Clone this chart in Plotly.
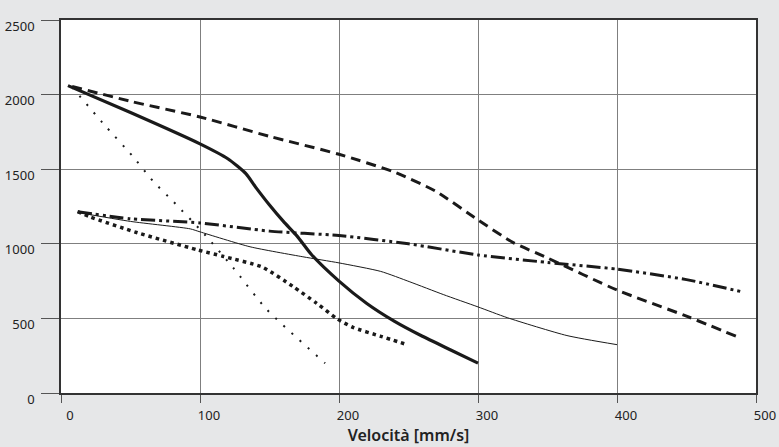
import plotly.graph_objects as go

# --- data ---
thick_x = [5, 50, 100, 120, 133, 140, 150, 160, 170, 180, 200, 220, 240, 260, 280, 300]
thick_y = [2060, 1880, 1670, 1570, 1470, 1380, 1260, 1150, 1050, 930, 750, 600, 480, 380, 290, 200]

dash_x = [8, 50, 100, 150, 200, 240, 270, 300, 325, 350, 400, 450, 487]
dash_y = [2055, 1955, 1850, 1720, 1600, 1480, 1350, 1160, 1010, 905, 690, 515, 375]

dashdot_x = [12, 50, 100, 150, 200, 250, 300, 350, 400, 450, 490]
dashdot_y = [1215, 1168, 1140, 1085, 1055, 1000, 925, 875, 830, 760, 678]

thin_x = [12, 50, 93, 100, 136, 174, 200, 230, 251, 275, 300, 321, 364, 400]
thin_y = [1210, 1150, 1100, 1080, 980, 913, 872, 815, 745, 660, 577, 505, 385, 324]

bigdot_x = [12, 21, 55, 98, 117, 145, 167, 184, 199, 210, 230, 249]
bigdot_y = [1215, 1180, 1074, 960, 915, 843, 713, 601, 495, 440, 380, 324]

smalldot_x = [8, 30, 52, 66, 81, 103, 124, 148, 190]
smalldot_y = [2050, 1810, 1582, 1422, 1281, 1066, 838, 560, 200]

x_ticks = [0, 100, 200, 300, 400, 500]
y_ticks = [0, 500, 1000, 1500, 2000, 2500]
x_title = "Velocità [mm/s]"

FONT = "Noto Sans"
BLACK = "#1a1a1a"
BG = "#e6e7e8"

fig = go.Figure()
fig.add_trace(go.Scatter(x=smalldot_x, y=smalldot_y, mode="lines",
                         line=dict(color=BLACK, width=2, dash="2px,9px", shape="spline", smoothing=0.6)))
fig.add_trace(go.Scatter(x=bigdot_x, y=bigdot_y, mode="lines",
                         line=dict(color=BLACK, width=3.5, dash="3.5px,4px", shape="spline", smoothing=0.6)))
fig.add_trace(go.Scatter(x=thin_x, y=thin_y, mode="lines",
                         line=dict(color=BLACK, width=1, shape="spline", smoothing=0.6)))
fig.add_trace(go.Scatter(x=dashdot_x, y=dashdot_y, mode="lines",
                         line=dict(color=BLACK, width=3, dash="14px,4px,3px,4px,3px,4px", shape="spline", smoothing=0.6)))
fig.add_trace(go.Scatter(x=dash_x, y=dash_y, mode="lines",
                         line=dict(color=BLACK, width=3, dash="10px,6px", shape="spline", smoothing=0.6)))
fig.add_trace(go.Scatter(x=thick_x, y=thick_y, mode="lines",
                         line=dict(color=BLACK, width=3.2, shape="spline", smoothing=0.6)))

fig.update_layout(
    width=779, height=447,
    margin=dict(l=61, r=23, t=20, b=54, autoexpand=False),
    paper_bgcolor=BG,
    plot_bgcolor="#ffffff",
    showlegend=False,
    font=dict(family=FONT, size=13, color="#222222"),
)
fig.update_xaxes(
    range=[0, 500], tickvals=x_ticks, ticktext=[str(v) for v in x_ticks],
    showgrid=True, gridcolor="#7f7f7f", gridwidth=1.2,
    showline=True, linecolor="#333333", linewidth=1.6, mirror=True,
    ticks="outside", ticklen=8, tickcolor="#555555", tickwidth=1.2,
    ticklabelshift=9, ticklabelstandoff=2,
    zeroline=False, automargin=False,
    title=dict(text=x_title, font=dict(family=FONT, size=16, color="#222222", weight=600), standoff=2),
)
fig.update_yaxes(
    range=[0, 2500], tickvals=y_ticks, ticktext=[str(v) for v in y_ticks],
    showgrid=True, gridcolor="#7f7f7f", gridwidth=1.2,
    showline=True, linecolor="#333333", linewidth=1.6, mirror=True,
    ticks="outside", ticklen=18, tickcolor="#555555", tickwidth=1.2,
    ticklabelshift=6, ticklabelstandoff=4,
    zeroline=False, automargin=False,
)

fig.write_html(
    "out.html",
    config={"displayModeBar": False},
    post_script="document.body.style.margin='0';document.body.style.background='" + BG + "';",
)
